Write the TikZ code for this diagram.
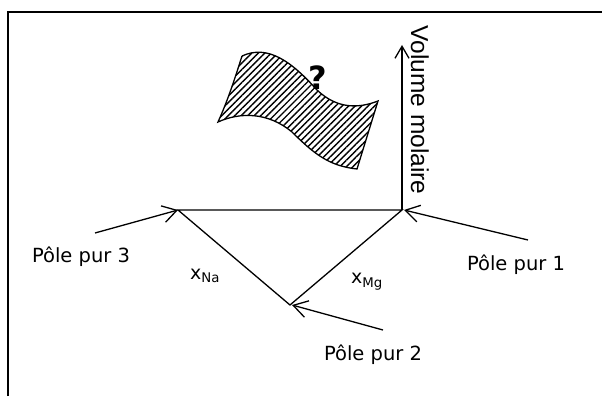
\documentclass[tikz,border=0pt]{standalone}
\usepackage{fontspec}
\setmainfont{DejaVu Sans}
\newfontfamily\arialfont{Liberation Sans}
\usetikzlibrary{arrows.meta,patterns.meta}

\tikzset{
    pole/.style={font=\fontsize{19.5}{22}\selectfont, inner sep=0pt},
    frac/.style={font=\fontsize{19}{22}\selectfont, inner sep=0pt},
    barb/.style={-{Straight Barb[length=14pt,width=17pt]}},
}

\begin{document}
\begin{tikzpicture}[x=1pt,y=-1pt,line width=1.3pt]
    \useasboundingbox (0,0) rectangle (602,396);

    % frame
    \draw[line width=1.6pt] (8,396) -- (8,12) -- (602,12);

    % corners of the triangle
    \coordinate (P1) at (402,210);
    \coordinate (P2) at (290,305);
    \coordinate (P3) at (178,210);
    \coordinate (top) at (402,45);
    \draw (P3) -- (P1) -- (P2) -- cycle;
    \draw[-{Straight Barb[length=12pt,width=14pt]}] (P1) -- (top);
    \node[font=\arialfont\fontsize{24.5}{28}\selectfont, rotate=-90, inner sep=0pt] (vol) at (420,110) {Volume molaire};

    % labels of the poles
    \node[pole] (L3) at (81,257) {Pôle pur 3};
    \node[pole] (L1) at (516,265) {Pôle pur 1};
    \node[pole] (L2) at (373,355) {Pôle pur 2};
    \coordinate (T3) at (95,233);
    \coordinate (T1) at (528,240);
    \coordinate (T2) at (383,330);
    \draw[barb] (T3) -- (P3);
    \draw[barb] (T1) -- ([xshift=2pt]P1);
    \draw[barb] (T2) -- ([xshift=2pt]P2);

    \node[frac] (xNa) at (205,276) {x\textsubscript{Na}};
    \node[frac] (xMg) at (367,282) {x\textsubscript{Mg}};

    % the unknown surface
    \draw[pattern={Lines[angle=45,distance=4.6pt,line width=1.4pt]}] (242,56) .. controls (268,44) and (292,62) .. (317,90)
        .. controls (338,110) and (360,108) .. (378,101)
        -- (357,169)
        .. controls (330,166) and (315,155) .. (292,132)
        .. controls (268,112) and (240,112) .. (218,122)
        .. controls (228,100) and (235,78) .. (242,56);
    \node[font=\bfseries\fontsize{32}{34}\selectfont, inner sep=0pt] (q) at (318,78) {?};
\end{tikzpicture}
\end{document}
